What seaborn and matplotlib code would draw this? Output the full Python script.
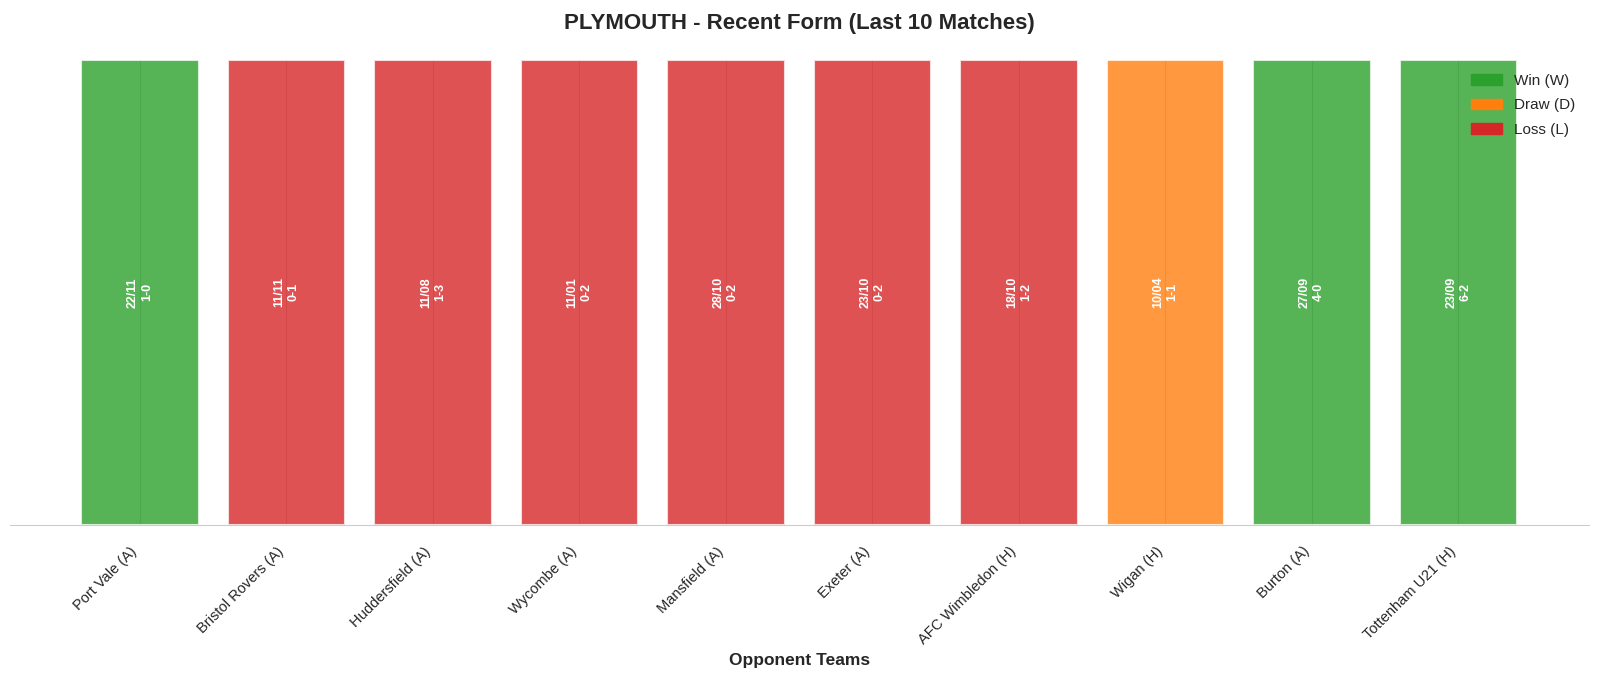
import matplotlib
matplotlib.use("Agg")
import matplotlib.pyplot as plt
import matplotlib.patches as mpatches
import seaborn as sns
import pandas as pd

# Match data (most recent first)
opponents = ['Port Vale (A)', 'Bristol Rovers (A)', 'Huddersfield (A)', 'Wycombe (A)',
             'Mansfield (A)', 'Exeter (A)', 'AFC Wimbledon (H)', 'Wigan (H)',
             'Burton (A)', 'Tottenham U21 (H)']
dates = ['22/11', '11/11', '11/08', '11/01', '28/10', '23/10', '18/10', '10/04', '27/09', '23/09']
scores = ['1-0', '0-1', '1-3', '0-2', '0-2', '0-2', '1-2', '1-1', '4-0', '6-2']
results = ['W', 'L', 'L', 'L', 'L', 'L', 'L', 'D', 'W', 'W']

colors = {'W': '#2ca02c', 'D': '#ff7f0e', 'L': '#d62728'}

df = pd.DataFrame({'Opponent': opponents, 'Result': results, 'Value': [1] * len(opponents)})

sns.set_style("whitegrid")
plt.rcParams['font.family'] = ['Liberation Sans', 'DejaVu Sans']

fig, ax = plt.subplots(figsize=(16, 6.79), dpi=100)
sns.barplot(data=df, x='Opponent', y='Value', hue='Result', palette=colors,
            saturation=1, dodge=False, legend=False, width=0.8, alpha=0.8,
            edgecolor='white', linewidth=1.5, ax=ax)

# date and score inside each bar
for i, (d, s) in enumerate(zip(dates, scores)):
    ax.text(i, 0.5, f"{d}\n{s}", rotation=90, ha='center', va='center',
            fontsize=9, fontweight='bold', color='white')

n = len(opponents)
ax.set_xlim(-0.89, n - 1 + 0.89)
ax.set_ylim(0, 1)
ax.set_yticks([])
ax.set_ylabel('')
ax.xaxis.grid(True)
ax.set_axisbelow(True)
ax.set_xlabel('Opponent Teams', fontsize=12.5, fontweight='bold')
ax.set_title('PLYMOUTH - Recent Form (Last 10 Matches)', fontsize=16,
             fontweight='bold', pad=22)
plt.setp(ax.get_xticklabels(), rotation=45, ha='right', fontsize=10.5)
ax.tick_params(axis='x', length=0, pad=14)
sns.despine(ax=ax, left=True)
ax.spines['bottom'].set_color('#cccccc')

handles = [mpatches.Patch(color=colors['W'], label='Win (W)'),
           mpatches.Patch(color=colors['D'], label='Draw (D)'),
           mpatches.Patch(color=colors['L'], label='Loss (L)')]
ax.legend(handles=handles, loc='upper right', fontsize=11, frameon=False,
          labelspacing=0.7)

plt.subplots_adjust(left=0.006, right=0.993, top=0.912, bottom=0.227)
fig.savefig('out.png', dpi=100)
